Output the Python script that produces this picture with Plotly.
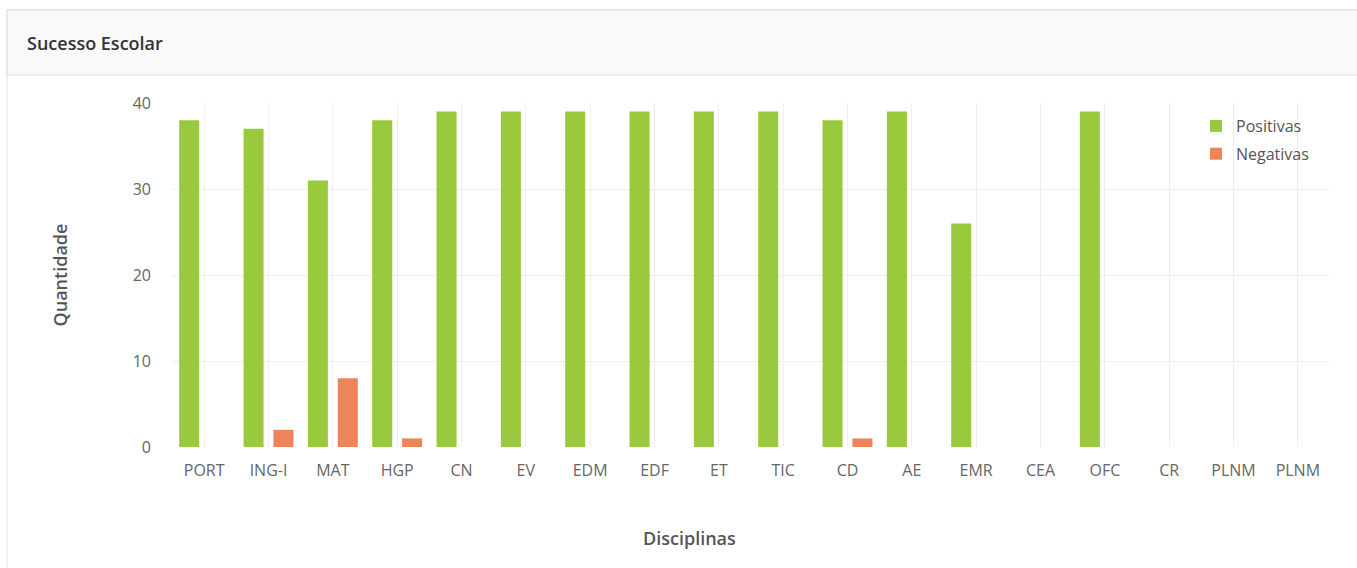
import plotly.graph_objects as go

categories = ["PORT", "ING-I", "MAT", "HGP", "CN", "EV", "EDM", "EDF", "ET", "TIC",
              "CD", "AE", "EMR", "CEA", "OFC", "CR", "PLNM", "PLNM2"]
tick_labels = ["PORT", "ING-I", "MAT", "HGP", "CN", "EV", "EDM", "EDF", "ET", "TIC",
               "CD", "AE", "EMR", "CEA", "OFC", "CR", "PLNM", "PLNM"]
positivas = [38, 37, 31, 38, 39, 39, 39, 39, 39, 39, 38, 39, 26, 0, 39, 0, 0, 0]
negativas = [0, 2, 8, 1, 0, 0, 0, 0, 0, 0, 1, 0, 0, 0, 0, 0, 0, 0]

GREEN = "#9BC93E"
ORANGE = "#EF845B"
FONT = "Open Sans"

fig = go.Figure()
fig.add_trace(go.Bar(x=categories, y=positivas, name="Positivas",
                     marker=dict(color=GREEN, line=dict(width=0)), legendgroup="p"))
fig.add_trace(go.Bar(x=categories, y=negativas, name="Negativas",
                     marker=dict(color=ORANGE, line=dict(width=0)), legendgroup="n"))

W, H = 1357, 568
L, R, T, B = 172, 27, 103, 121
PW, PH = W - L - R, H - T - B


def px(x):
    return (x - L) / PW


def py(y):
    return (H - B - y) / PH


fig.update_layout(
    width=W, height=H,
    margin=dict(l=L, r=R, t=T, b=B),
    paper_bgcolor="white", plot_bgcolor="white",
    barmode="group", bargap=0.07, bargroupgap=0.33,
    font=dict(family=FONT, color="#666666", size=16),
    showlegend=True,
    legend=dict(x=px(1196), y=py(109), xanchor="left", yanchor="top",
                bgcolor="rgba(0,0,0,0)", font=dict(size=16, color="#555555"),
                traceorder="grouped", tracegroupgap=4),
    xaxis=dict(
        tickmode="array", tickvals=categories, ticktext=tick_labels,
        showgrid=True, gridcolor="#EEEEEE", gridwidth=1,
        showline=False, zeroline=False, ticks="", tickangle=0,
        ticklabelstandoff=12,
        tickfont=dict(size=16, color="#666666"),
    ),
    yaxis=dict(
        range=[0, 40], dtick=10, showgrid=True, gridcolor="#EEEEEE", gridwidth=1,
        zeroline=False, showline=False, ticks="", ticklabelstandoff=20,
        tickfont=dict(size=16, color="#666666"),
        title=dict(text="Quantidade", standoff=60,
                   font=dict(size=18, color="#555555", weight=600)),
    ),
)

# x-axis title (centred on the chart container as in the reference)
fig.add_annotation(text="Disciplinas", xref="paper", yref="paper",
                   x=px(689), y=py(538), xanchor="center", yanchor="middle",
                   showarrow=False, font=dict(size=18, color="#555555", weight=600))

# panel frame and header
fig.add_shape(type="rect", xref="paper", yref="paper",
              x0=px(7), x1=px(W + 5), y0=py(H + 5), y1=py(10),
              line=dict(color="#E3E3E3", width=1), fillcolor="rgba(0,0,0,0)", layer="below")
fig.add_shape(type="rect", xref="paper", yref="paper",
              x0=px(7), x1=px(W + 5), y0=py(75), y1=py(10),
              line=dict(color="#DDDDDD", width=1), fillcolor="#F9F9F9", layer="below")
fig.add_annotation(text="Sucesso Escolar", xref="paper", yref="paper",
                   x=px(25), y=py(43), xanchor="left", yanchor="middle", showarrow=False,
                   font=dict(family=FONT, size=18, color="#333333", weight=600))

fig.write_html("out.html", config={"displayModeBar": False},
               post_script="document.body.style.margin='0';")
